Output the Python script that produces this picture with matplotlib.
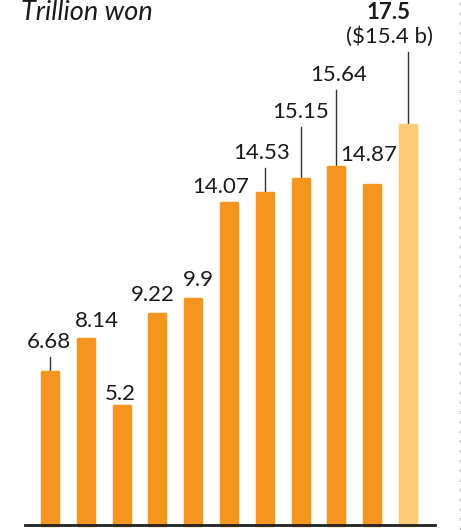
import numpy as np
import matplotlib.pyplot as plt

# donnees (trillion won)
valeurs = [6.68, 8.14, 5.2, 9.22, 9.9, 14.07, 14.53, 15.15, 15.64, 14.87, 17.5]
etiquettes = ["6.68", "8.14", "5.2", "9.22", "9.9", "14.07", "14.53", "15.15", "15.64", "14.87", "17.5"]
sous_titre_dernier = "($15.4 b)"
titre = "Trillion won"

# placement des etiquettes : decalage x (px), hauteur au-dessus de la barre (px), trait ou non
dx_px = [-1, 11, -1, -5, 5, -8, -3, 0, 2, -3, -19]
dy_px = [30, 18, 12, 19, 19, 16, 40, 67, 92, 30, 112]
trait = [True, False, False, False, False, False, True, True, True, False, True]

orange = "#F5951F"
clair = "#FCCB76"

fig = plt.figure(figsize=(4.61, 5.30), dpi=100)
ax = fig.add_axes([0, 0, 1, 1])

px_x = 35.8   # pixels par barre
px_y = 22.86  # pixels par unite
x = np.arange(len(valeurs))
ax.set_xlim(-50 / px_x, 10 + 53 / px_x)
ax.set_ylim(-5 / px_y, 525 / px_y)
ax.axis("off")

couleurs = [orange] * (len(valeurs) - 1) + [clair]
ax.bar(x, valeurs, width=0.45, color=couleurs, edgecolor=couleurs,
       linewidth=2.5, joinstyle="round", zorder=2)

police = "Lato"
for i, v in enumerate(valeurs):
    lx = x[i] + dx_px[i] / px_x
    ly = v + dy_px[i] / px_y
    if i == len(valeurs) - 1:
        ax.text(lx, ly, etiquettes[i], ha="center", va="center", fontsize=16,
                fontweight="bold", family=police, color="#1a1a1a")
        ax.text(lx, ly - 24 / px_y, sous_titre_dernier, ha="center", va="center",
                fontsize=16, family=police, color="#1a1a1a")
        haut = ly - 39 / px_y
    else:
        ax.text(lx, ly, etiquettes[i], ha="center", va="center", fontsize=16,
                family=police, color="#1a1a1a")
        haut = ly - 15 / px_y
    if trait[i]:
        ax.plot([x[i], x[i]], [v + 1 / px_y, haut], color="#333333", lw=1, zorder=1)

# ligne de base
ax.axhline(0, xmin=25 / 461, xmax=435 / 461, color="#222222", lw=2, zorder=3)

# pointilles a droite
ax.plot([0.997, 0.997], [0, 1], transform=ax.transAxes, color="#bbbbbb",
        lw=1, ls=(0, (2, 5)))

fig.text(21 / 461, 1 - 13 / 530, titre, ha="left", va="center", fontsize=19.5,
         style="italic", family=police, color="#1a1a1a")

fig.savefig("out.png", dpi=100)
